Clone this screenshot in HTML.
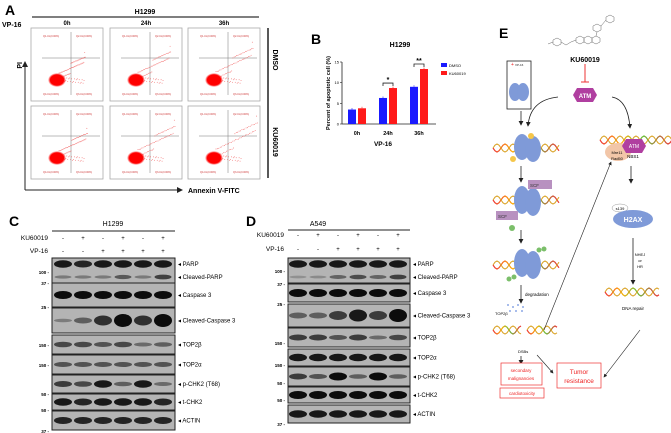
<!DOCTYPE html>
<html><head><meta charset="utf-8"><style>
body{margin:0;background:#fff;}
svg{display:block;font-family:"Liberation Sans",sans-serif;}
</style></head><body>
<svg id="fig" width="671" height="433" viewBox="0 0 671 433" xmlns="http://www.w3.org/2000/svg">
<defs>
<radialGradient id="blob"><stop offset="0" stop-color="#f00"/><stop offset="0.75" stop-color="#f00"/><stop offset="1" stop-color="#f00" stop-opacity="0"/></radialGradient>
<linearGradient id="dna" x1="0" x2="1"><stop offset="0" stop-color="#e33"/><stop offset="0.3" stop-color="#fa0"/><stop offset="0.6" stop-color="#6b3"/><stop offset="1" stop-color="#e33"/></linearGradient>
<marker id="ah" markerWidth="6" markerHeight="6" refX="5" refY="3" orient="auto"><path d="M0,0L6,3L0,6z" fill="#222"/></marker>
</defs>
<g id="panelA">
<text x="5" y="15" font-size="14" font-weight="bold">A</text>
<text x="145" y="14" font-size="7" font-weight="bold" text-anchor="middle">H1299</text>
<line x1="32" y1="17" x2="259" y2="17" stroke="#333" stroke-width="1.2"/>
<text x="2" y="27" font-size="7" font-weight="bold">VP-16</text>
<line x1="268" y1="28" x2="268" y2="178" stroke="#222" stroke-width="1.5"/>
<text transform="translate(273,60) rotate(90)" font-size="7" font-weight="bold" text-anchor="middle">DMSO</text>
<text transform="translate(273,142) rotate(90)" font-size="7" font-weight="bold" text-anchor="middle">KU60019</text>
<line x1="25" y1="190" x2="25" y2="62" stroke="#222" stroke-width="1" marker-end="url(#ah)"/>
<line x1="25" y1="190" x2="182" y2="190" stroke="#222" stroke-width="1" marker-end="url(#ah)"/>
<text transform="translate(22,62) rotate(-90)" font-size="7" font-weight="bold" text-anchor="end">PI</text>
<text x="188" y="193" font-size="7" font-weight="bold">Annexin V-FITC</text>
</g>
<g id="panelB">
<text x="311" y="44" font-size="14" font-weight="bold">B</text>
<text x="400" y="47" font-size="7" font-weight="bold" text-anchor="middle">H1299</text>
<text transform="translate(330,93) rotate(-90)" font-size="5.5" font-weight="bold" text-anchor="middle">Percent of apoptotic cell (%)</text>
<text x="383" y="146" font-size="6.5" font-weight="bold" text-anchor="middle">VP-16</text>
<g id="barArea"></g>
<rect x="441" y="63" width="6" height="4" fill="#1a1aff"/>
<text x="449" y="67" font-size="4">DMSO</text>
<rect x="441" y="71" width="6" height="4" fill="#ff1a1a"/>
<text x="449" y="75" font-size="4">KU60019</text>
</g>
<g id="panelC">
<text x="9" y="226" font-size="14" font-weight="bold">C</text>
<text x="113" y="226" font-size="7" text-anchor="middle">H1299</text>
<line x1="52" y1="231" x2="175" y2="231" stroke="#222" stroke-width="1"/>
</g>
<g id="panelD">
<text x="246" y="226" font-size="14" font-weight="bold">D</text>
<text x="318" y="226" font-size="7" text-anchor="middle">A549</text>
<line x1="288" y1="230" x2="410" y2="230" stroke="#222" stroke-width="1"/>
</g>
<g id="panelE">
<text x="499" y="38" font-size="14" font-weight="bold">E</text>
<g stroke="#666" stroke-width="0.5" fill="none">
<polygon points="553,40 557,38 561,40 561,44 557,46 553,44"/>
<polygon points="576,38 580,36 584,38 584,42 580,44 576,42"/>
<polygon points="584,38 588,36 592,38 592,42 588,44 584,42"/>
<polygon points="592,38 596,36 600,38 600,42 596,44 592,42"/>
<polygon points="593,26 597,24 601,26 601,30 597,32 593,30"/>
<polygon points="606,17 610,15 614,17 614,21 610,23 606,21"/>
<path d="M561,42 L566,45 L571,42 L576,40 M597,32 L596,36 M601,26 L606,20 M548,44 L553,42"/>
</g>
<text x="585" y="62" font-size="7" font-weight="bold" text-anchor="middle">KU60019</text>
<line x1="585" y1="64" x2="585" y2="82" stroke="#e33" stroke-width="1"/>
<line x1="581" y1="82" x2="589" y2="82" stroke="#e33" stroke-width="1"/>
<polygon points="573,95 577,88 593,88 597,95 593,102 577,102" fill="#b03fa0"/>
<text x="585" y="98" font-size="6" fill="#fff" font-weight="bold" text-anchor="middle">ATM</text>
<path d="M558,97 Q530,100 528,126" stroke="#222" fill="none" stroke-width="0.8" marker-end="url(#ah)"/>
<path d="M612,97 Q628,100 630,128" stroke="#222" fill="none" stroke-width="0.8" marker-end="url(#ah)"/>
<rect x="507" y="61" width="24" height="48" fill="none" stroke="#222" stroke-width="0.8"/>
<text x="515" y="66" font-size="3" fill="#222">VP-16</text>
<text x="511" y="66" font-size="5" fill="#e22">+</text>
<ellipse cx="515" cy="92" rx="6" ry="9" fill="#7f9ad8"/><ellipse cx="523" cy="92" rx="6" ry="9" fill="#7f9ad8"/>
<line x1="521" y1="111" x2="521" y2="125" stroke="#222" stroke-width="0.8" marker-end="url(#ah)"/>
<g id="dnaGroup"></g>
<ellipse cx="522" cy="147" rx="8" ry="13" fill="#7f9ad8"/><ellipse cx="533" cy="149" rx="8" ry="13" fill="#7f9ad8"/>
<circle cx="531" cy="136" r="3" fill="#f5c64a"/><circle cx="513" cy="159" r="3" fill="#f5c64a"/>
<line x1="521" y1="166" x2="521" y2="182" stroke="#222" stroke-width="0.8" marker-end="url(#ah)"/>
<ellipse cx="522" cy="200" rx="8" ry="14" fill="#7f9ad8"/><ellipse cx="533" cy="202" rx="8" ry="14" fill="#7f9ad8"/>
<rect x="528" y="180" width="24" height="9" fill="#b891c0"/><rect x="496" y="211" width="22" height="9" fill="#b891c0"/>
<text x="530" y="187" font-size="4.5" fill="#333">SCF</text><text x="498" y="218" font-size="4.5" fill="#333">SCF</text>
<circle cx="512" cy="228" r="3" fill="#7bbf6a"/>
<line x1="521" y1="230" x2="521" y2="243" stroke="#222" stroke-width="0.8" marker-end="url(#ah)"/>
<ellipse cx="522" cy="263" rx="8" ry="14" fill="#7f9ad8"/><ellipse cx="533" cy="265" rx="8" ry="14" fill="#7f9ad8"/>
<circle cx="539" cy="250" r="2.5" fill="#7bbf6a"/><circle cx="544" cy="249" r="2.5" fill="#7bbf6a"/><circle cx="514" cy="277" r="2.5" fill="#7bbf6a"/><circle cx="509" cy="279" r="2.5" fill="#7bbf6a"/>
<line x1="521" y1="285" x2="521" y2="303" stroke="#222" stroke-width="0.8" marker-end="url(#ah)"/>
<text x="525" y="296" font-size="4.5">degradation</text>
<text x="495" y="315" font-size="4">TOP2β</text>
<text x="518" y="353" font-size="4">DSBs</text>
<line x1="521" y1="356" x2="521" y2="364" stroke="#222" stroke-width="0.8" marker-end="url(#ah)"/>
<line x1="537" y1="355" x2="553" y2="373" stroke="#222" stroke-width="0.6" marker-end="url(#ah)"/>
<line x1="544" y1="330" x2="611" y2="162" stroke="#222" stroke-width="0.6" marker-end="url(#ah)"/>
<rect x="501" y="363" width="41" height="22" fill="#fff" stroke="#e33" stroke-width="0.7"/>
<text x="521" y="372" font-size="4.5" fill="#e22" text-anchor="middle">secondary</text>
<text x="521" y="380" font-size="4.5" fill="#e22" text-anchor="middle">malignancies</text>
<rect x="500" y="388" width="44" height="10" fill="#fff" stroke="#e33" stroke-width="0.7"/>
<text x="522" y="395" font-size="4.5" fill="#e22" text-anchor="middle">cardiotoxicity</text>
<rect x="557" y="363" width="44" height="25" fill="#fff" stroke="#e33" stroke-width="0.7"/>
<text x="579" y="374" font-size="6.5" fill="#e22" text-anchor="middle">Tumor</text>
<text x="579" y="383" font-size="6.5" fill="#e22" text-anchor="middle">resistance</text>
<ellipse cx="618" cy="152" rx="13" ry="9" fill="#f2c6a8"/>
<polygon points="622,146 626,139 642,139 646,146 642,153 626,153" fill="#b03fa0"/>
<text x="634" y="148" font-size="5" fill="#fff" text-anchor="middle">ATM</text>
<text x="617" y="154" font-size="4" text-anchor="middle">Mre11</text><text x="617" y="160" font-size="4" text-anchor="middle">Rad50</text>
<text x="633" y="158" font-size="4.5" text-anchor="middle">NBS1</text>
<line x1="631" y1="166" x2="631" y2="183" stroke="#222" stroke-width="0.8" marker-end="url(#ah)"/>
<ellipse cx="620" cy="208" rx="8" ry="4" fill="none" stroke="#999" stroke-width="0.5"/>
<text x="620" y="210" font-size="4" text-anchor="middle">s139</text>
<ellipse cx="633" cy="219" rx="20" ry="9" fill="#7f9ad8"/>
<text x="633" y="222" font-size="7" fill="#fff" font-weight="bold" text-anchor="middle">H2AX</text>
<line x1="633" y1="238" x2="633" y2="284" stroke="#222" stroke-width="0.8" marker-end="url(#ah)"/>
<text x="640" y="256" font-size="4" text-anchor="middle">NHEJ</text><text x="640" y="262" font-size="4" text-anchor="middle">or</text><text x="640" y="268" font-size="4" text-anchor="middle">HR</text>
<text x="633" y="310" font-size="4.5" text-anchor="middle">DNA repair</text>
<line x1="640" y1="330" x2="604" y2="377" stroke="#222" stroke-width="0.6" marker-end="url(#ah)"/>
</g>
</svg>
<script>
const NS="http://www.w3.org/2000/svg";
const fig=document.getElementById('fig');
function mk(tag,attrs,parent){const e=document.createElementNS(NS,tag);for(const k in attrs)e.setAttribute(k,attrs[k]);(parent||fig).appendChild(e);return e;}

// ---------- Panel B data ----------
const timepoints=["0h","24h","36h"];
const dmsoValues=[3.5,6.3,9.0];
const kuValues=[3.8,8.7,13.3];
const yTicks=[0,5,10,15];
const sigLabels=["","*","**"];
const bx0=342, by0=124, byTop=62, yMax=15;
function yS(v){return by0-(by0-byTop)*v/yMax;}
function xS(i){return 352+i*31;}
const bg=document.getElementById('barArea');
mk('line',{x1:bx0,y1:byTop,x2:bx0,y2:by0,stroke:'#222','stroke-width':0.8},bg);
mk('line',{x1:bx0,y1:by0,x2:436,y2:by0,stroke:'#222','stroke-width':0.8},bg);
yTicks.forEach(t=>{
  mk('line',{x1:bx0-2,y1:yS(t),x2:bx0,y2:yS(t),stroke:'#222','stroke-width':0.6},bg);
  const tx=mk('text',{x:bx0-3,y:yS(t)+1.5,'font-size':4,'text-anchor':'end'},bg);tx.textContent=t;
});
timepoints.forEach((tp,i)=>{
  const cx=xS(i);
  const b1=mk('rect',{x:cx-4,y:yS(dmsoValues[i]),width:8,height:by0-yS(dmsoValues[i]),fill:'#1a1aff'},bg);
  
  
  const b2=mk('rect',{x:cx+6,y:yS(kuValues[i]),width:8,height:by0-yS(kuValues[i]),fill:'#ff1a1a'},bg);
  
  
  mk('line',{x1:cx,y1:yS(dmsoValues[i])-1.5,x2:cx,y2:yS(dmsoValues[i]),stroke:'#1a1aff','stroke-width':0.6},bg);
  mk('line',{x1:cx+10,y1:yS(kuValues[i])-1.5,x2:cx+10,y2:yS(kuValues[i]),stroke:'#ff1a1a','stroke-width':0.6},bg);
  const lb=mk('text',{x:cx+5,y:135,'font-size':5.5,'font-weight':'bold','text-anchor':'middle'},bg);lb.textContent=tp;
  
  
  if(sigLabels[i]){
    const top=yS(Math.max(dmsoValues[i],kuValues[i]))-5;
    mk('path',{d:`M${cx},${top+3}V${top}H${cx+10}V${top+3}`,stroke:'#222',fill:'none','stroke-width':0.8},bg);
    const s=mk('text',{x:cx+5,y:top-1,'font-size':7,'font-weight':'bold','text-anchor':'middle'},bg);s.textContent=sigLabels[i];
  }
});

// ---------- Panel A flow plots ----------
const colX=[31,110,188], rowY=[28,106], colLabels=["0h","24h","36h"];
const spread=[[0.3,0.6,0.8],[0.4,0.8,1.0]];
colX.forEach((x,c)=>{
  const l=mk('text',{x:x+36,y:25,'font-size':6,'font-weight':'bold','text-anchor':'middle'});l.textContent=colLabels[c];
  rowY.forEach((y,r)=>{
    const g=mk('g',{});
    
    
    mk('rect',{x:x,y:y,width:72,height:73,fill:'#fff',stroke:'#aaa','stroke-width':0.8},g);
    mk('line',{x1:x+40,y1:y+4,x2:x+40,y2:y+67,stroke:'#777','stroke-width':0.5},g);
    mk('line',{x1:x+11,y1:y+30,x2:x+69,y2:y+30,stroke:'#777','stroke-width':0.5},g);
    const s=spread[r][c];
    // dotted scatter pattern (decorative)
    for(let k=0;k<60;k++){
      const t=((k*37)%60)/60, o=((k*53)%17)/17-0.5;
      const px=x+28+t*(20+22*s), py=y+50-t*(16+18*s)+o*(8+6*s);
      mk('circle',{cx:px,cy:py,r:0.45,fill:'#e33',opacity:0.7},g);
    }
    for(let k=0;k<25;k++){
      const t=((k*29)%25)/25, o=((k*11)%7)/7-0.5;
      mk('circle',{cx:x+30+t*24,cy:y+53+o*6,r:0.45,fill:'#e33',opacity:0.7},g);
    }
    mk('ellipse',{cx:x+26,cy:y+52,rx:9,ry:7,fill:'url(#blob)'},g);
    [["Q1",x+12,y+9],["Q2",x+45,y+9],["Q4",x+12,y+67],["Q3",x+45,y+67]].forEach(q=>{const t=mk('text',{x:q[1],y:q[2],'font-size':2.5,fill:'#c33'},g);t.textContent=q[0]+'-UL(0.00%)';});
  });
});

// ---------- Western blots ----------
const koSigns=["-","+","-","+","-","+"], vpSigns=["-","-","+","+","+","+"];
const blotNames=["PARP","Caspase 3","Cleaved-Caspase 3","TOP2β","TOP2α","p-CHK2 (T68)","t-CHK2","ACTIN"];
const intensC=[[0.9,0.8,0.9,0.9,0.9,0.9],[1,1,1,1,1,1],[0.05,0.3,0.7,1,0.7,1],[0.5,0.5,0.4,0.5,0.2,0.3],[0.4,0.4,0.4,0.4,0.4,0.4],[0.6,0.5,0.9,0.3,0.9,0.2],[0.9,0.8,0.9,0.9,0.9,0.8],[0.8,0.8,0.8,0.8,0.8,0.8]];
const cleavedC=[0.3,0.3,0.3,0.6,0.3,0.8];
const intensD=[[0.9,0.9,0.9,0.9,0.9,0.9],[1,1,1,1,1,1],[0.3,0.3,0.6,0.9,0.6,1],[0.6,0.6,0.4,0.6,0.2,0.5],[0.9,0.9,0.9,0.9,0.9,0.9],[0.6,0.4,1,0.3,1,0.3],[1,1,1,1,1,1],[0.9,0.9,0.9,0.9,0.9,0.9]];
const cleavedD=[0.1,0.15,0.5,0.7,0.5,0.8];
const mwLabels=["100","37","25","150","150","50","50","37"];
function blot(groupId,x0,x1,lanes,rowsY,intens,cleaved,labelX,labels,kuY,vpY,mwYs){
  const grp=document.getElementById(groupId);
  const t1=mk('text',{x:x0-4,y:kuY,'font-size':6.5,'text-anchor':'end'},grp);t1.textContent="KU60019";
  const t2=mk('text',{x:x0-4,y:vpY,'font-size':6.5,'text-anchor':'end'},grp);t2.textContent="VP-16";
  lanes.forEach((lx,i)=>{
    const a=mk('text',{x:lx,y:kuY,'font-size':6,'text-anchor':'middle'},grp);a.textContent=koSigns[i];
    const b=mk('text',{x:lx,y:vpY,'font-size':6,'text-anchor':'middle'},grp);b.textContent=vpSigns[i];
  });
  rowsY.forEach((ry,k)=>{
    const r=mk('rect',{x:x0,y:ry[0],width:x1-x0,height:ry[1]-ry[0],fill:'#b4b4b4',stroke:'#222','stroke-width':1},grp);
    
    
    const mid=k===0?ry[0]+6:(ry[0]+ry[1])/2;
    lanes.forEach((lx,i)=>{
      const v=intens[k][i];
      mk('ellipse',{cx:lx,cy:mid,rx:9,ry:1.5+v*(k===2?5:2.5),fill:'#0c0c0c',opacity:0.3+0.7*v},grp);
      if(k===0) mk('ellipse',{cx:lx,cy:ry[1]-6,rx:8.5,ry:1.2+cleaved[i]*1.5,fill:'#111',opacity:0.15+0.7*cleaved[i]},grp);
    });
    const lt=mk('text',{x:labelX,y:mid+2,'font-size':6},grp);lt.textContent='◂ '+labels[k];
    if(k===0){const c=mk('text',{x:labelX,y:ry[1]-4,'font-size':6},grp);c.textContent='◂ Cleaved-PARP';}
  });
  mwYs.forEach((my,k)=>{const m=mk('text',{x:x0-3,y:my+2,'font-size':4.5,'text-anchor':'end','font-weight':'bold'},grp);m.textContent=mwLabels[k]+' -';});
}
blot('panelC',52,175,[63,83,103,123,143,163],[[258,283],[283,307],[308,333],[335,354],[355,374],[375,393],[394,410],[411,430]],intensC,cleavedC,178,blotNames,240,253,[272,283,307,345,365,394,410,431]);
blot('panelD',288,410,[298,318,338,358,378,398],[[258,283],[284,302],[304,327],[328,347],[349,366],[367,386],[387,403],[405,423]],intensD,cleavedD,413,blotNames,237,251,[271,284,304,343,365,383,400,424]);

// ---------- DNA strands in E ----------
const dg=document.getElementById('dnaGroup');
[[493,560,148],[493,560,200],[493,560,265],[600,672,140],[605,660,292],[493,522,330],[527,558,330]].forEach(d=>{
  let p1=`M${d[0]},${d[2]}`,p2=`M${d[0]},${d[2]}`;
  for(let x=d[0];x<=d[1];x+=2){const ph=(x-d[0])/8*Math.PI;p1+=` L${x},${d[2]+4*Math.sin(ph)}`;p2+=` L${x},${d[2]-4*Math.sin(ph)}`;}
  mk('path',{d:p1,stroke:'url(#dna)',fill:'none','stroke-width':1.2},dg);
  mk('path',{d:p2,stroke:'#d9a020',fill:'none','stroke-width':1},dg);
});
[[508,305],[513,307],[518,305],[523,307],[510,311],[516,311],[522,311]].forEach(p=>mk('circle',{cx:p[0],cy:p[1],r:0.9,fill:'#6b8ede'},dg));
</script>
</body></html>
